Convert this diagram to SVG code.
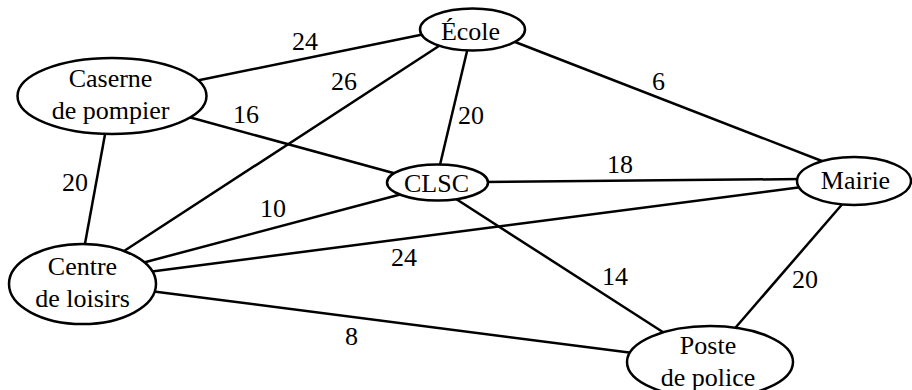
<svg xmlns="http://www.w3.org/2000/svg" width="912" height="390" viewBox="0 0 912 390">
  <style>
    .edge { stroke: #000; stroke-width: 2.5; fill: none; }
    .node ellipse { fill: #fff; stroke: #000; stroke-width: 2.5; }
  </style>
  <rect width="912" height="390" fill="#fff"/>

  <!-- weighted edges -->
  <g id="edges">
    <line class="edge" x1="195" y1="81" x2="425" y2="34"/>
    <line class="edge" x1="185" y1="116" x2="397" y2="174"/>
    <line class="edge" x1="106" y1="129" x2="84" y2="249"/>
    <line class="edge" x1="442" y1="44" x2="121" y2="253"/>
    <line class="edge" x1="468" y1="47" x2="439" y2="169"/>
    <line class="edge" x1="510" y1="40" x2="827" y2="163"/>
    <line class="edge" x1="483" y1="182" x2="802" y2="179"/>
    <line class="edge" x1="402" y1="194" x2="142" y2="263"/>
    <line class="edge" x1="453" y1="197" x2="669" y2="336"/>
    <line class="edge" x1="802" y1="187" x2="148" y2="272"/>
    <line class="edge" x1="845" y1="201" x2="730" y2="334"/>
    <line class="edge" x1="150" y1="291" x2="633" y2="353"/>

    <g font-family="Liberation Serif" font-size="26" fill="#000">
      <text x="292" y="50">24</text>
      <text x="331" y="90">26</text>
      <text x="233" y="123">16</text>
      <text x="62" y="191">20</text>
      <text x="458" y="124">20</text>
      <text x="652" y="90">6</text>
      <text x="607" y="173">18</text>
      <text x="260" y="217">10</text>
      <text x="391" y="266">24</text>
      <text x="602" y="285">14</text>
      <text x="792" y="288">20</text>
      <text x="345" y="345">8</text>
    </g>
  </g>

  <g font-family="Liberation Serif" font-size="26" fill="#000" text-anchor="middle">
    <g id="ecole" class="node">
      <ellipse cx="472.5" cy="29.5" rx="52.5" ry="21"/>
      <text x="470.5" y="40">École</text>
    </g>
    <g id="caserne" class="node">
      <ellipse cx="112" cy="96" rx="94.5" ry="38"/>
      <text x="110.5" y="87">Caserne</text>
      <text x="110.5" y="119">de pompier</text>
    </g>
    <g id="clsc" class="node">
      <ellipse cx="437.5" cy="182.5" rx="50.5" ry="18"/>
      <text x="436.5" y="192">CLSC</text>
    </g>
    <g id="mairie" class="node">
      <ellipse cx="854" cy="181" rx="57" ry="24"/>
      <text x="855.5" y="189">Mairie</text>
    </g>
    <g id="centre" class="node">
      <ellipse cx="82.5" cy="284" rx="73.5" ry="40"/>
      <text x="82.5" y="275">Centre</text>
      <text x="82.5" y="307">de loisirs</text>
    </g>
    <g id="poste" class="node">
      <ellipse cx="710" cy="362" rx="83" ry="36"/>
      <text x="708" y="354">Poste</text>
      <text x="708" y="386">de police</text>
    </g>
  </g>
</svg>
